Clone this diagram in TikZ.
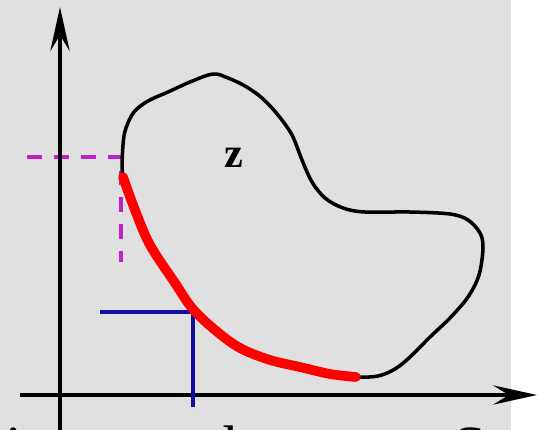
\documentclass[tikz,border=0pt]{standalone}
\usepackage{fontspec}
\setmainfont{Liberation Serif}
\usetikzlibrary{arrows.meta}

\definecolor{panelGray}{HTML}{E0E0E0}
\definecolor{guideBlue}{HTML}{1010A0}
\definecolor{guideMag}{HTML}{C020C8}

\begin{document}
\begin{tikzpicture}[
  x=0.02cm, y=-0.02cm,
  >={Stealth[length=25pt, width=11pt, inset=9pt]},
  axis/.style={->, line width=2pt},
  blob/.style={line width=2pt, line join=round},
  redArc/.style={line width=5.5pt, color=red, line cap=round},
  blueLine/.style={line width=2.2pt, color=guideBlue},
  magLine/.style={line width=2.8pt, color=guideMag, dash pattern=on 8.5pt off 6.8pt},
  cut/.style={anchor=base west, inner sep=0pt, font=\fontsize{35}{40}\selectfont},
]
\clip (0,0) rectangle (539,430);
\useasboundingbox (0,0) rectangle (539,430);
\fill[panelGray] (0,0) rectangle (511,430);

% axes
\coordinate (xStart) at (20,395);
\coordinate (xEnd)   at (537,395);
\coordinate (yStart) at (60,440);
\coordinate (yEnd)   at (60,7);

% guide points
\coordinate (magL)   at (27,157);
\coordinate (magC)   at (121,157);
\coordinate (magB)   at (121,262);
\coordinate (blueL)  at (100,312);
\coordinate (hit)    at (193,312);
\coordinate (blueB)  at (193,407);

\draw[magLine] (magL) -- (magC) -- (magB);
\draw[axis] (xStart) -- (xEnd);
\draw[axis] (yStart) -- (yEnd);

% region boundary
\draw[blob] plot[smooth cycle, tension=0.55] coordinates {
  (123,145) (126,128) (134,112) (148,101) (168,92) (190,82) (213,74)
  (228,78) (245,86) (262,98) (278,115) (292,135) (302,160) (312,182)
  (325,198) (343,208) (365,212) (410,212) (450,214) (468,220) (480,233)
  (483,248) (479,275) (468,297) (450,318) (430,337) (410,357) (395,369)
  (378,376) (356,377) (330,374) (300,367) (270,360) (240,348) (215,330)
  (192,308) (175,283) (150,245) (135,210) (123,177)};

\draw[blueLine] (blueL) -- (hit) -- (blueB);

\draw[redArc] plot[smooth, tension=0.55] coordinates {
  (356,377) (330,374) (300,367) (270,360) (240,348) (215,330)
  (192,308) (175,283) (150,245) (135,210) (123,177)};

\node[font=\fontsize{24}{26}\selectfont\bfseries] (zLbl) at (234,158) {z};

% caption line, cut off by the frame
\node[cut] (capA) at (5,468) {in\kern4pt t};
\node[cut] (capB) at (206,468) {th};
\node[cut] (capC) at (452,468) {S};
\end{tikzpicture}
\end{document}
